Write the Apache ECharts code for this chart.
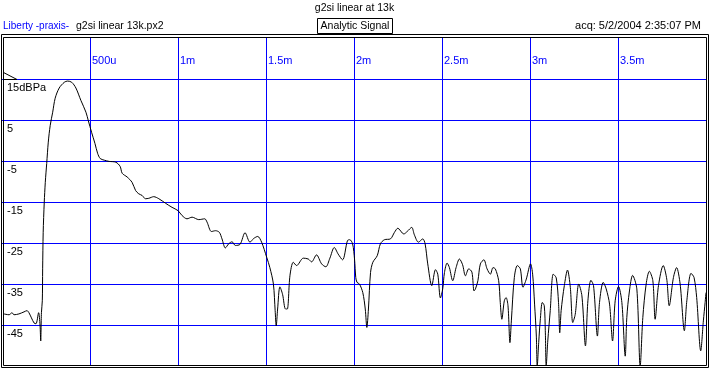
<!DOCTYPE html>
<html>
<head>
<meta charset="utf-8">
<script src="https://cdn.jsdelivr.net/npm/echarts@6/dist/echarts.min.js"></script>
<style>
html,body{margin:0;padding:0;background:#fff;}
#chart{width:709px;height:380px;}
</style>
</head>
<body>
<div id="chart"></div>
<script>
// time in milliseconds
const timeMs = [
0.011,0.040,0.057,0.068,0.096,0.125,0.142,0.153,0.182,0.193,
0.208,0.216,0.220,0.224,0.229,0.231,0.234,0.240,0.246,0.254,
0.263,0.274,0.288,0.302,0.325,0.354,0.373,0.396,0.420,0.448,
0.477,0.490,0.509,0.528,0.543,0.558,0.581,0.609,0.647,0.671,
0.683,0.711,0.739,0.759,0.777,0.796,0.815,0.834,0.862,0.891,
0.929,0.966,1.000,1.023,1.051,1.080,1.118,1.152,1.165,1.190,
1.213,1.235,1.250,1.269,1.288,1.307,1.326,1.353,1.381,1.409,
1.430,1.453,1.475,1.504,1.522,1.542,1.552,1.558,1.566,1.579,
1.594,1.611,1.621,1.636,1.655,1.674,1.712,1.740,1.759,1.787,
1.816,1.840,1.863,1.888,1.910,1.935,1.963,1.976,1.992,2.003,
2.010,2.017,2.031,2.050,2.064,2.073,2.082,2.094,2.107,2.132,
2.150,2.173,2.207,2.230,2.249,2.283,2.302,2.328,2.343,2.366,
2.391,2.404,2.419,2.442,2.463,2.476,2.491,2.504,2.514,2.529,
2.542,2.561,2.580,2.599,2.617,2.633,2.652,2.670,2.682,2.690,
2.704,2.718,2.738,2.756,2.775,2.790,2.803,2.822,2.831,2.840,
2.854,2.864,2.875,2.886,2.894,2.911,2.928,2.945,2.960,2.979,
3.003,3.015,3.026,3.036,3.041,3.050,3.058,3.070,3.081,3.087,
3.092,3.101,3.115,3.132,3.149,3.162,3.169,3.177,3.195,3.213,
3.229,3.243,3.257,3.277,3.295,3.315,3.329,3.346,3.361,3.383,
3.395,3.416,3.433,3.452,3.469,3.484,3.503,3.522,3.541,3.550,
3.565,3.583,3.607,3.626,3.641,3.660,3.678,3.698,3.711,3.730,
3.757,3.777,3.791,3.815,3.833,3.853,3.877,3.891,3.915,3.932,
3.947,3.970,3.985,3.995,4.000
];
// level in dB re Pa
const levelDb = [
-42.3,-42.5,-42.0,-42.5,-42.3,-41.8,-41.5,-42.0,-44.5,-44.7,
-42.0,-45.0,-48.9,-42.0,-39.1,-31.3,-22.5,-15.1,-10.2,-5.6,
-0.4,3.7,6.9,10.3,12.8,14.2,14.5,14.2,12.8,9.8,
6.9,4.9,2.0,-0.7,-3.1,-4.4,-4.8,-5.1,-5.3,-6.3,
-8.0,-8.9,-10.2,-12.2,-13.0,-13.4,-14.2,-14.1,-13.7,-14.2,
-15.3,-16.3,-17.1,-18.3,-19.1,-18.7,-19.3,-19.1,-19.9,-22.2,
-22.0,-22.4,-24.0,-26.2,-25.2,-24.7,-25.6,-25.3,-22.5,-24.8,
-23.9,-23.4,-24.8,-28.5,-31.0,-35.0,-41.5,-45.2,-41.1,-35.7,
-37.5,-41.1,-41.1,-33.0,-29.7,-30.5,-28.7,-28.9,-29.6,-27.9,
-30.1,-30.8,-28.7,-26.1,-27.7,-29.1,-24.4,-24.2,-25.2,-28.9,
-33.4,-34.6,-35.0,-37.1,-41.1,-45.6,-41.1,-32.2,-29.7,-28.1,
-25.2,-24.2,-24.0,-22.4,-21.4,-22.8,-22.2,-21.2,-23.0,-24.8,
-24.0,-25.2,-30.1,-35.4,-31.5,-32.6,-38.4,-36.2,-32.2,-29.9,
-31.0,-34.2,-31.0,-28.9,-30.3,-33.0,-31.3,-32.1,-36.7,-36.2,
-34.2,-30.1,-29.1,-31.3,-32.6,-31.0,-31.3,-34.2,-39.5,-43.6,
-39.1,-38.3,-40.3,-49.3,-44.0,-33.4,-30.5,-31.3,-35.8,-33.8,
-30.1,-32.6,-39.9,-47.7,-55.0,-48.9,-44.0,-39.5,-40.3,-46.4,
-55.0,-48.9,-41.5,-32.6,-33.5,-39.5,-46.9,-41.5,-35.4,-31.6,
-35.8,-44.4,-42.4,-35.0,-37.9,-50.1,-39.1,-34.1,-35.4,-47.7,
-39.5,-34.6,-36.2,-39.9,-48.9,-39.1,-35.6,-39.5,-52.6,-43.2,
-36.7,-32.9,-36.2,-55.0,-43.2,-35.0,-31.9,-34.2,-43.6,-35.4,
-30.5,-33.8,-40.3,-33.4,-31.0,-35.0,-46.4,-39.1,-32.4,-33.4,
-38.3,-51.3,-44.0,-39.5,-37.1
];
const xTickLabels = ['', '500u', '1m', '1.5m', '2m', '2.5m', '3m', '3.5m', ''];
const yTickLabels = ['', '-45', '-35', '-25', '-15', '-5', '5', '15dBPa', ''];

const titleText = 'g2si linear at 13k';
const sourceText = 'Liberty -praxis-';
const fileText = 'g2si linear 13k.px2';
const modeText = 'Analytic Signal';
const acqText = 'acq: 5/2/2004 2:35:07 PM';

const FONT = '"Liberation Sans", Arial, sans-serif';
const chart = echarts.init(document.getElementById('chart'), null, {renderer: 'canvas'});

const option = {
  animation: false,
  backgroundColor: '#ffffff',
  grid: {left: 2, right: 3, top: 38, bottom: 14, containLabel: false},
  xAxis: {
    type: 'value', position: 'top', min: 0, max: 4, interval: 0.5,
    axisLine: {show: false}, axisTick: {show: false},
    splitLine: {show: true, showMinLine: false, showMaxLine: false, lineStyle: {color: '#0000ff', width: 1}},
    axisLabel: {
      inside: true, margin: 23, color: '#0000ff', fontFamily: FONT, fontSize: 11,
      align: 'left', verticalAlign: 'middle', padding: [0, 0, 0, 2],
      showMinLabel: false, showMaxLabel: false,
      formatter: v => xTickLabels[Math.round(v / 0.5)] || ''
    }
  },
  yAxis: {
    type: 'value', min: -55, max: 25, interval: 10,
    axisLine: {show: false}, axisTick: {show: false},
    splitLine: {show: true, showMinLine: false, showMaxLine: false, lineStyle: {color: '#0000ff', width: 1}},
    axisLabel: {
      inside: true, margin: 5, color: '#000000', fontFamily: FONT, fontSize: 11,
      align: 'left', verticalAlign: 'top', padding: [3, 0, 0, 0],
      showMinLabel: false, showMaxLabel: false,
      formatter: v => yTickLabels[Math.round((v + 55) / 10)] || ''
    }
  },
  series: [{
    type: 'line',
    data: timeMs.map((t, i) => [t, levelDb[i]]),
    showSymbol: false, symbol: 'none',
    smooth: 0.3,
    lineStyle: {color: '#000000', width: 1},
    clip: true, z: 5
  }],
  graphic: [
    {type: 'text', left: 'center', top: 3, style: {text: titleText, font: '10.5px ' + FONT, fill: '#000'}, z: 20},
    {type: 'text', x: 3, y: 26, style: {text: sourceText, font: '10px ' + FONT, fill: '#0000ff', textVerticalAlign: 'middle'}, z: 20},
    {type: 'text', x: 76, y: 26, style: {text: fileText, font: '10.5px ' + FONT, fill: '#000', textVerticalAlign: 'middle'}, z: 20},
    {type: 'rect', shape: {x: 317.5, y: 18.5, width: 75, height: 15}, style: {fill: '#fff', stroke: '#000', lineWidth: 1}, z: 20},
    {type: 'text', x: 355, y: 26, style: {text: modeText, font: '10.5px ' + FONT, fill: '#000', textAlign: 'center', textVerticalAlign: 'middle'}, z: 21},
    {type: 'text', x: 701, y: 26, style: {text: acqText, font: '11px ' + FONT, fill: '#000', textAlign: 'right', textVerticalAlign: 'middle'}, z: 20},
    {type: 'rect', shape: {x: 1.5, y: 34.5, width: 707, height: 333}, style: {fill: null, stroke: '#000', lineWidth: 1}, z: 30},
    {type: 'rect', shape: {x: 3.5, y: 37.5, width: 703, height: 328}, style: {fill: null, stroke: '#000', lineWidth: 1}, z: 30},
    {type: 'polygon', shape: {points: [[3.5, 72.5], [17, 79.5], [3.5, 79.5]]}, style: {fill: null, stroke: '#000', lineWidth: 1}, z: 30}
  ]
};
chart.setOption(option);
</script>
</body>
</html>
